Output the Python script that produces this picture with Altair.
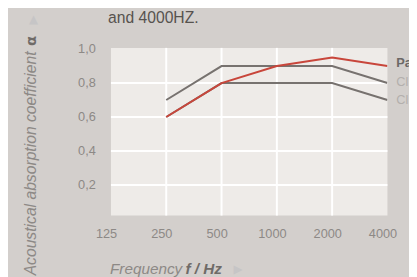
import altair as alt
import pandas as pd
import math

# ---- data ----
freq_labels = ["125", "250", "500", "1000", "2000", "4000"]
freqs = [250, 500, 1000, 2000, 4000]
series_ids = ["Pa", "Cl1", "Cl2"]
legend_text = ["Pa", "Cl", "Cl"]
pa_values = [0.60, 0.80, 0.90, 0.95, 0.90]
cl1_values = [0.70, 0.90, 0.90, 0.90, 0.80]
cl2_values = [0.60, 0.80, 0.80, 0.80, 0.70]
y_ticks = [0.2, 0.4, 0.6, 0.8, 1.0]
x_grid = [1, 2, 3, 4]
y_grid = [0.2, 0.4, 0.6, 0.8]

rows = []
for sid, vals in zip(series_ids, [pa_values, cl1_values, cl2_values]):
    for f, v in zip(freqs, vals):
        rows.append({"series": sid, "idx": math.log2(f / 125), "alpha": v})
df = pd.DataFrame(rows)

FONT = "Liberation Sans"
LABEL = "#8d8986"
BG = "#d3cfcc"
PLOT_BG = "#eeebe8"

xs = alt.Scale(domain=[0, 5], nice=False, zero=False)
ys = alt.Scale(domain=[0.02, 1.007], nice=False, zero=False)

xgrid = alt.Chart(pd.DataFrame({"g": x_grid})).mark_rule(color="white", strokeWidth=2).encode(
    x=alt.X("g:Q", scale=xs, axis=alt.Axis(
        values=list(range(6)),
        labelExpr="['125','250','500','1000','2000','4000'][datum.value]",
        title=None, grid=False, domain=False, ticks=False,
        labelColor=LABEL, labelFont=FONT, labelFontSize=13, labelPadding=12, labelOffset=-5,
        labelFlush=False, labelOverlap=False)),
)
ygrid = alt.Chart(pd.DataFrame({"g": y_grid})).mark_rule(color="white", strokeWidth=2).encode(
    y=alt.Y("g:Q", scale=ys, axis=alt.Axis(
        values=y_ticks,
        labelExpr="replace(format(datum.value, '.1f'), '.', ',')",
        title=None, grid=False, domain=False, ticks=False,
        labelColor=LABEL, labelFont=FONT, labelFontSize=13, labelPadding=16,
        labelFlush=False, labelOverlap=False)),
)

lines = alt.Chart(df).mark_line(strokeWidth=2, clip=True).encode(
    x=alt.X("idx:Q", scale=xs),
    y=alt.Y("alpha:Q", scale=ys),
    color=alt.Color("series:N", scale=alt.Scale(domain=series_ids,
                    range=["#c8463b", "#77726f", "#77726f"]), legend=None),
    detail="series:N",
)
lines_gray = lines.transform_filter("datum.series != 'Pa'")
lines_red = lines.transform_filter("datum.series == 'Pa'")

def txt(text, x, y, size=15, color=LABEL, weight="normal", style="normal", angle=0, align="left", baseline="alphabetic", font=FONT):
    return alt.Chart(pd.DataFrame({"t": [text]})).mark_text(
        text=text, font=font, fontSize=size, color=color, fontWeight=weight,
        fontStyle=style, angle=angle, align=align, baseline=baseline,
    ).encode(x=alt.value(x), y=alt.value(y))

annots = [
    txt("and 4000HZ.", -3, -25, size=16, color="#57534f"),
    txt("Frequency", -1, 231, size=15.6, style="italic"),
    txt("f / Hz", 76, 231, size=15.6, style="italic", weight="bold", color="#6f6b68"),
    txt("▶", 125, 230, size=12, color="#c6c5c6", font="DejaVu Sans"),
    txt("Acoustical absorption coefficient", -76, 232, size=16, style="italic", angle=270),
    txt("α", -76, -2, size=15, weight="bold", color="#6f6b68", angle=270, font="DejaVu Sans"),
    txt("▲", -79, -29, size=12, color="#c6c5c6", align="center", baseline="middle", font="DejaVu Sans"),
    txt(legend_text[0], 291, 20, size=13, weight="bold", color="#6b6866"),
    txt(legend_text[1], 291, 39, size=13, color="#b3afac"),
    txt(legend_text[2], 291, 57, size=13, color="#b3afac"),
]

chart = alt.layer(xgrid, ygrid, lines_gray, lines_red, *annots).properties(
    width=282, height=171,
    padding={"left": 105, "top": 38, "right": 22, "bottom": 60},
    autosize=alt.AutoSizeParams(type="none"),
    background=BG,
).configure_view(fill=PLOT_BG, stroke=None)

chart.save("out.html", embed_options={"renderer": "svg", "actions": False})
